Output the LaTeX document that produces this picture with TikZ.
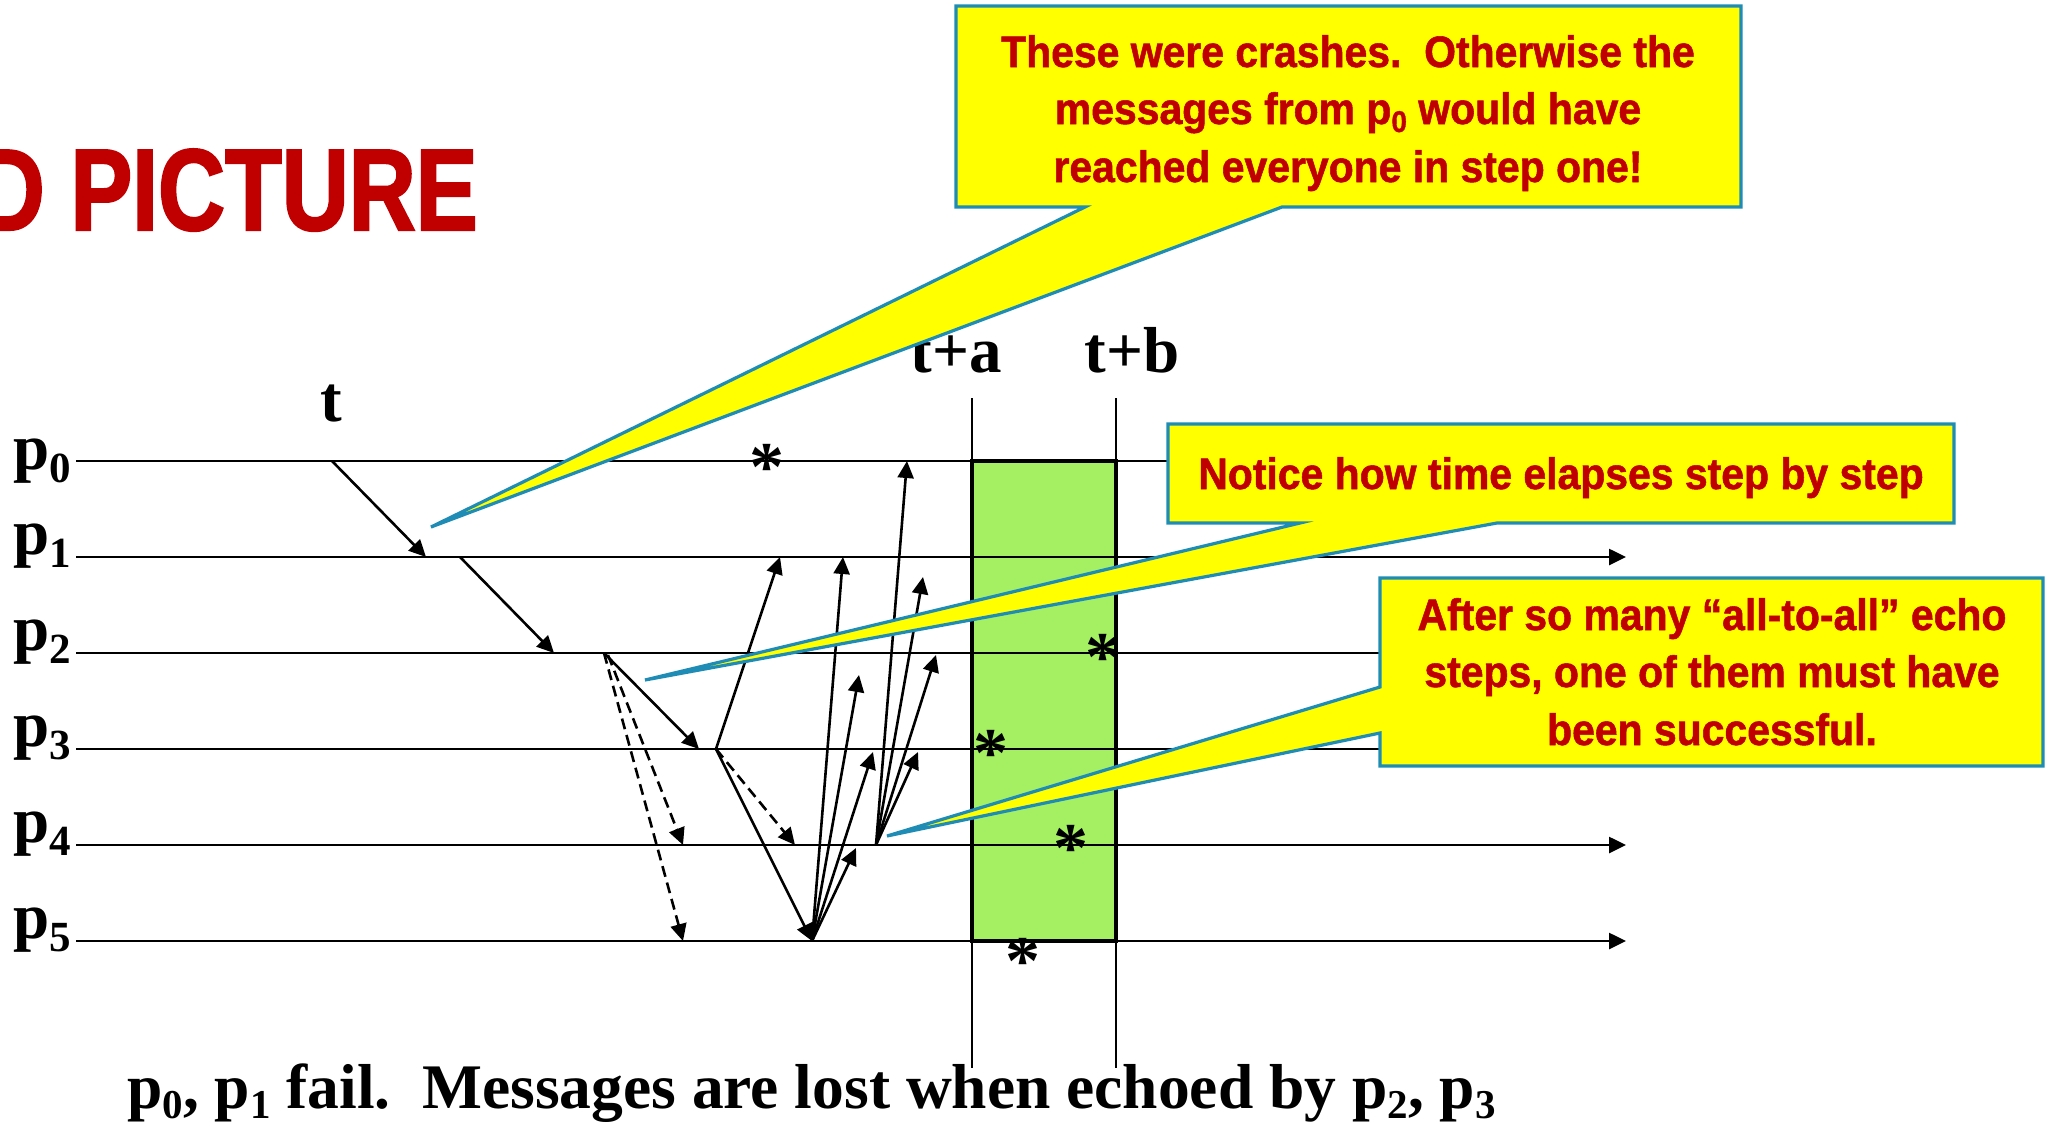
\documentclass[tikz,border=0pt]{standalone}
\usepackage{fontspec}
\setmainfont{Liberation Serif}
\newfontfamily\calloutfont{Liberation Sans}[FakeStretch=0.93, BoldFeatures={FakeBold=1.2}]
\newfontfamily\titlefont{Liberation Sans}[FakeStretch=0.8, BoldFeatures={FakeBold=1.8}]
\usetikzlibrary{arrows.meta}
\definecolor{callred}{RGB}{192,0,0}
\definecolor{callyellow}{RGB}{255,255,0}
\definecolor{callblue}{RGB}{30,140,180}
\definecolor{stepgreen}{RGB}{165,240,98}
\newcommand\lblsub[1]{\raisebox{-13pt}{\fontsize{43}{43}\selectfont #1}}
\newcommand\capsub[1]{\raisebox{-10pt}{\fontsize{41}{41}\selectfont #1}}
\newcommand\callsub[1]{\raisebox{-8pt}{\fontsize{30}{30}\selectfont #1}}
\tikzset{
  procline/.style={line width=2.6pt},
  procarrow/.style={line width=2.6pt, -{Triangle[length=17pt,width=16pt]}},
  msg/.style={line width=2.6pt, -{Triangle[length=17pt,width=16pt]}},
  lostmsg/.style={msg, dash pattern=on 11pt off 6pt},
  callout/.style={fill=callyellow, draw=callblue, line width=3.2pt, line join=miter},
  calltext/.style={font={\calloutfont\bfseries\fontsize{44}{44}\selectfont}, text=callred, anchor=base, inner sep=0pt},
  serifbig/.style={font={\bfseries\fontsize{65}{65}\selectfont}, inner sep=0pt},
  captiontext/.style={font={\bfseries\fontsize{63.5}{63.5}\selectfont}, inner sep=0pt},
  asterisk/.style={font={\bfseries\fontsize{70}{70}\selectfont}, inner sep=0pt, anchor=base},
  stepbox/.style={fill=stepgreen, draw=black, line width=3.4pt},
}
\begin{document}
\begin{tikzpicture}[x=1pt,y=-1pt]
\useasboundingbox (0,0) rectangle (2051,1128);
\clip (0,0) rectangle (2051,1128);

% title (cut at the left edge, as in the reference)
\node[font={\titlefont\bfseries\fontsize{116}{116}\selectfont}, text=callred, anchor=base east, inner sep=0pt] (title) at (478,230) {D PICTURE};

% step box
\draw[stepbox] (972,461) rectangle (1116,941);

% process lines
\coordinate (l0a) at (76,461);  \coordinate (l0b) at (1220,461);
\coordinate (l1a) at (76,557);  \coordinate (l1b) at (1626,557);
\coordinate (l2a) at (76,653);  \coordinate (l2b) at (1420,653);
\coordinate (l3a) at (76,749);  \coordinate (l3b) at (1420,749);
\coordinate (l4a) at (76,845);  \coordinate (l4b) at (1626,845);
\coordinate (l5a) at (76,941);  \coordinate (l5b) at (1626,941);
\draw[procline] (l0a) -- (l0b);
\draw[procarrow] (l1a) -- (l1b);
\draw[procline] (l2a) -- (l2b);
\draw[procline] (l3a) -- (l3b);
\draw[procarrow] (l4a) -- (l4b);
\draw[procarrow] (l5a) -- (l5b);

% time marks
\coordinate (tatop) at (972,398);  \coordinate (tabot) at (972,1068);
\coordinate (tbtop) at (1116,398); \coordinate (tbbot) at (1116,1068);
\draw[procline] (tatop) -- (tabot);
\draw[procline] (tbtop) -- (tbbot);

% labels
\node[serifbig, anchor=base west] (lp0) at (13,469) {p\lblsub{0}};
\node[serifbig, anchor=base west] (lp1) at (13,554) {p\lblsub{1}};
\node[serifbig, anchor=base west] (lp2) at (13,650) {p\lblsub{2}};
\node[serifbig, anchor=base west] (lp3) at (13,746) {p\lblsub{3}};
\node[serifbig, anchor=base west] (lp4) at (13,842) {p\lblsub{4}};
\node[serifbig, anchor=base west] (lp5) at (13,938) {p\lblsub{5}};
\node[serifbig, anchor=base] (lt) at (331,421) {t};
\node[serifbig, anchor=base] (lta) at (956,372) {t+a};
\node[serifbig, anchor=base] (ltb) at (1132,372) {t+b};
\node[captiontext, anchor=base west] (caption) at (127,1108) {p\capsub{0}, p\capsub{1} fail.\ \ Messages are lost when echoed by p\capsub{2}, p\capsub{3}};

% asterisks
\node[asterisk] (a0) at (767,490) {*};
\node[asterisk] (a2) at (1103,680) {*};
\node[asterisk] (a3) at (991,776) {*};
\node[asterisk] (a4) at (1071,871) {*};
\node[asterisk] (a5) at (1023,984) {*};

% message events
\coordinate (s0) at (332,461);  \coordinate (r1) at (426,557);
\coordinate (s1) at (460,557);  \coordinate (r2) at (554,653);
\coordinate (s2) at (604,653);  \coordinate (r3) at (699,749);
\coordinate (s2b) at (608,655);
\coordinate (d4) at (683,845);  \coordinate (d5) at (683,941);
\coordinate (s3) at (716,749);
\coordinate (e1) at (780,557);  \coordinate (s5) at (812,941);
\coordinate (d4b) at (795,845);
\coordinate (f1) at (843,557);  \coordinate (f2) at (859,675);
\coordinate (f3) at (873,752);  \coordinate (f4) at (856,848);
\coordinate (s4) at (876,845);
\coordinate (g0) at (907,461);  \coordinate (g1) at (923,577);
\coordinate (g2) at (936,655);  \coordinate (g3) at (918,752);

\draw[msg] (s0) -- (r1);
\draw[msg] (s1) -- (r2);
\draw[msg] (s2) -- (r3);
\draw[lostmsg] (s2b) -- (d4);
\draw[lostmsg] (s2) -- (d5);
\draw[msg] (s3) -- (e1);
\draw[msg] (s3) -- (s5);
\draw[lostmsg] (s3) -- (d4b);
\draw[msg] (s5) -- (f1);
\draw[msg] (s5) -- (f2);
\draw[msg] (s5) -- (f3);
\draw[msg] (s5) -- (f4);
\draw[msg] (s4) -- (g0);
\draw[msg] (s4) -- (g1);
\draw[msg] (s4) -- (g2);
\draw[msg] (s4) -- (g3);

% callouts
\coordinate (tip1) at (431,527);
\coordinate (tip2) at (645,680);
\coordinate (tip3) at (887,836);
\draw[callout] (956,6) -- (1741,6) -- (1741,207) -- (1282,207) -- (tip1) -- (1085,207) -- (956,207) -- cycle;
\node[calltext] (c1a) at (1348,67) {These were crashes.\ \ Otherwise the};
\node[calltext] (c1b) at (1348,124) {messages from p\callsub{0} would have};
\node[calltext] (c1c) at (1348,182) {reached everyone in step one!};

\draw[callout] (1168,424) -- (1954,424) -- (1954,523) -- (1497,523) -- (tip2) -- (1300,523) -- (1168,523) -- cycle;
\node[calltext] (c2) at (1561,489) {Notice how time elapses step by step};

\draw[callout] (1380,578) -- (2043,578) -- (2043,766) -- (1380,766) -- (1380,733) -- (tip3) -- (1380,687) -- cycle;
\node[calltext] (c3a) at (1712,630) {After so many “all-to-all” echo};
\node[calltext] (c3b) at (1712,687) {steps, one of them must have};
\node[calltext] (c3c) at (1712,745) {been successful.};
\end{tikzpicture}
\end{document}
